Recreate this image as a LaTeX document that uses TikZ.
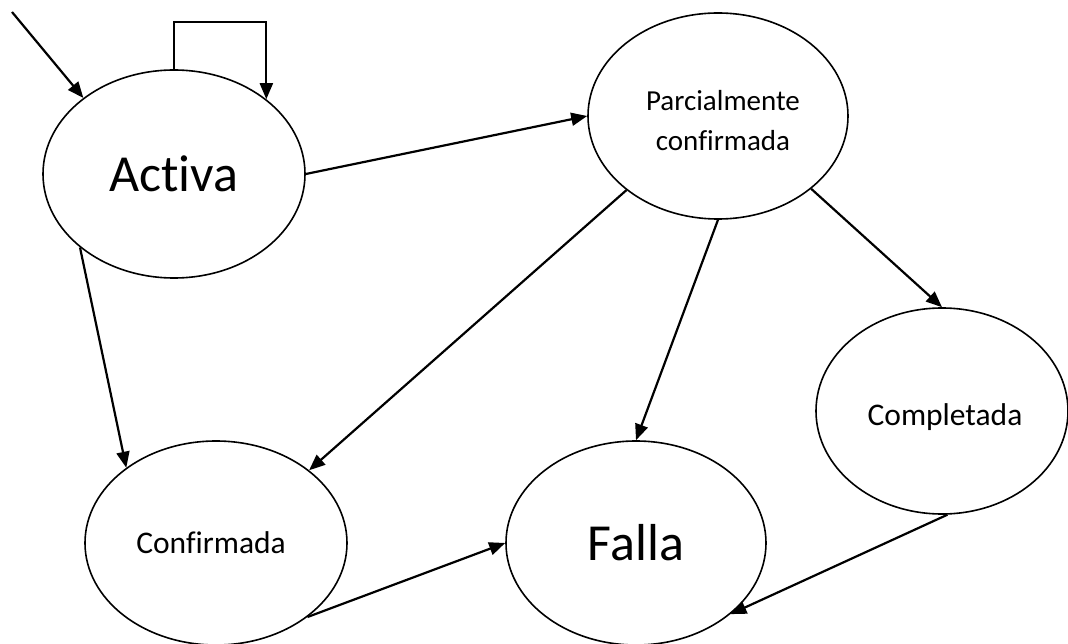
\documentclass[tikz,border=0pt]{standalone}
\usepackage{fontspec}
\setmainfont{Carlito}[Ligatures=NoCommon]
\usetikzlibrary{shapes.geometric,arrows.meta}
\begin{document}
\begin{tikzpicture}[x=1pt,y=-1pt,
  state/.style={draw=black,line width=1.6pt,ellipse,inner sep=0pt,align=center},
  big/.style={font=\fontsize{52}{60}\selectfont},
  small/.style={font=\fontsize{31.5}{40}\selectfont},
  smaller/.style={font=\fontsize{29}{40}\selectfont},
  conn/.style={line width=2.2pt,-{Triangle[length=16pt,width=13pt]}}]
\useasboundingbox (0,0) rectangle (1068,644);
\node[state,big,minimum width=262pt,minimum height=208pt] (act) at (174,174) {Act\kern0pt iva};
\node[state,minimum width=260pt,minimum height=206pt,
  label={[smaller,align=center,yshift=-5pt,xshift=5pt]center:Parcialmente\\conf\kern0pt irmada}] (par) at (718,116) {};
\node[state,minimum width=252pt,minimum height=206pt,
  label={[small,yshift=-6pt,xshift=3pt]center:Completada}] (com) at (942,411) {};
\node[state,minimum width=262pt,minimum height=204pt,
  label={[small,xshift=-5pt]center:Conf\kern0pt irmada}] (con) at (216,543) {};
\node[state,big,minimum width=260pt,minimum height=204pt] (fal) at (636,543) {Falla};
\coordinate (init) at (12,12);
\coordinate (loop) at (220,22);
\draw[conn] (init) -- (act.140.8);
\draw[conn] (act.90) |- (loop) -| (act.39.2);
\draw[conn] (act.0) -- (par.180);
\draw[conn] (act.218.7) -- (con.140.9);
\draw[conn] (par.219.1) -- (con.38.8);
\draw[conn] (par.270) -- (fal.90);
\draw[conn] (par.322.3) -- (com.90);
\draw[conn] (con.321.2) -- (fal.180);
\draw[conn] (com.273) -- (fal.323.3);
\end{tikzpicture}
\end{document}
